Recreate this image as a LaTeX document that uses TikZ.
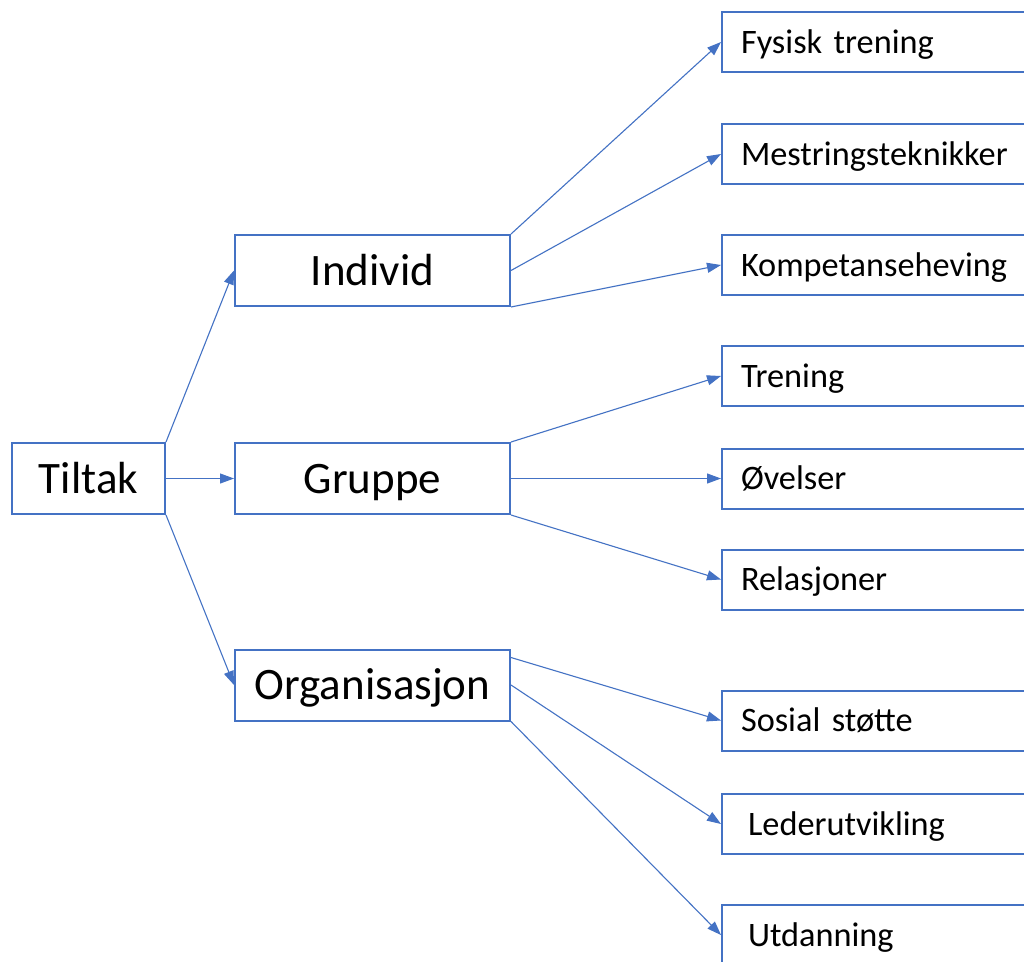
\documentclass[tikz,border=0pt]{standalone}
\usepackage{fontspec}
\setmainfont{Carlito}
\usetikzlibrary{arrows.meta,positioning}

\definecolor{tiltakblue}{HTML}{4472C4}

\tikzset{
  hovedboks/.style={draw=tiltakblue,line width=2pt,fill=white,minimum height=71pt,
    minimum width=275pt,inner sep=0pt,font=\fontsize{45}{54}\selectfont,
    text height=29pt,text depth=0pt},
  delboks/.style={draw=tiltakblue,line width=2pt,fill=white,anchor=west,
    minimum height=60pt,text width=300pt,align=left,inner xsep=19pt,inner ysep=0pt,
    font=\fontsize{34.3}{40}\selectfont,text height=22pt,text depth=0pt},
  pil/.style={tiltakblue,line width=1.1pt,-{Triangle[length=14pt,width=10pt]}}
}

\begin{document}
\begin{tikzpicture}[x=1pt,y=-1pt]
  \useasboundingbox (0,0) rectangle (1024,961);
  \clip (0,0) rectangle (1024,961);
  \fill[white] (0,0) rectangle (1024,961);

  % nivaa 1 og 2
  \node[hovedboks,minimum width=153pt] (tiltak) at (88.5,478.5) {Tiltak};
  \node[hovedboks] (individ) at (372.5,270.5) {Individ};
  \node[hovedboks] (gruppe) at (372.5,478.5) {Gruppe};
  \node[hovedboks] (org) at (372.5,685) {Organisasjon};

  % nivaa 3
  \node[delboks] (fysisk) at (721,42) {Fysisk trening};
  \node[delboks] (mestring) at (721,154) {Mestringsteknikker};
  \node[delboks] (kompetanse) at (721,265) {Kompetanseheving};
  \node[delboks] (trening) at (721,376) {Trening};
  \node[delboks] (ovelser) at (721,478.5) {Øvelser};
  \node[delboks] (relasjoner) at (721,579.5) {Relasjoner};
  \node[delboks] (sosial) at (721,720.5) {Sosial støtte};
  \node[delboks] (leder) at (721,824) {\hspace*{7pt}Lederutvikling};
  \node[delboks] (utdanning) at (721,935) {\hspace*{7pt}Utdanning};

  \draw[pil] (tiltak.north east) -- (individ.west);
  \draw[pil] (tiltak.east) -- (gruppe.west);
  \draw[pil] (tiltak.south east) -- (org.west);

  \draw[pil] (individ.north east) -- (fysisk.west);
  \draw[pil] (individ.east) -- (mestring.west);
  \draw[pil] (individ.south east) -- (kompetanse.west);

  \draw[pil] (gruppe.north east) -- (trening.west);
  \draw[pil] (gruppe.east) -- (ovelser.west);
  \draw[pil] (gruppe.south east) -- (relasjoner.west);

  \draw[pil] ([yshift=-9pt]org.north east) -- (sosial.west);
  \draw[pil] (org.east) -- (leder.west);
  \draw[pil] (org.south east) -- (utdanning.west);
\end{tikzpicture}
\end{document}
